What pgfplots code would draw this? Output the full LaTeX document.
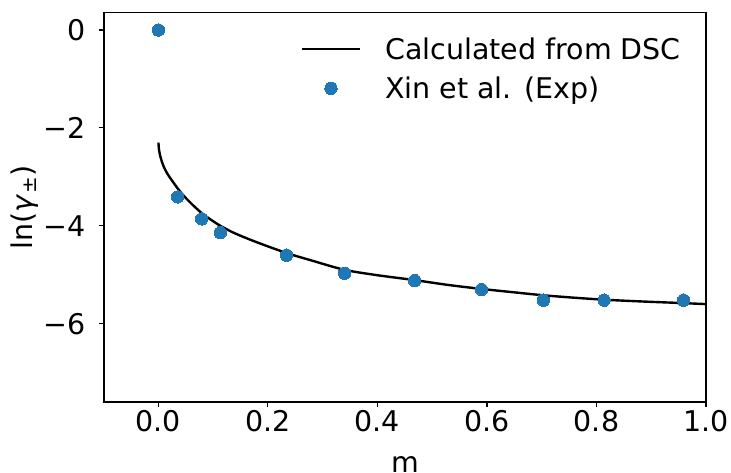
\documentclass[border=0pt]{standalone}
\usepackage{fontspec}
\setmainfont{DejaVu Sans}
\usepackage{pgfplots}
\pgfplotsset{compat=1.18}
\definecolor{c0}{HTML}{1F77B4}
\newcommand{\fs}{\fontsize{28.5}{34}\selectfont}
\pgfplotsset{
  lineleg/.style={legend image code/.code={\draw[##1] (0pt,0pt) -- (58pt,0pt);}},
  markleg/.style={legend image code/.code={\draw[##1, mark repeat=2, mark phase=2] plot coordinates {(0pt,0pt) (29pt,0pt) (58pt,0pt)};}},
}
\begin{document}
\begin{tikzpicture}
\begin{axis}[
  name=ax,
  scale only axis,
  width=602pt, height=389.3pt,
  xmin=-0.0994, xmax=1.0,
  ymin=-7.60, ymax=0.353,
  axis line style={line width=1.1pt},
  tick align=outside,
  tick style={line width=1.1pt, black},
  major tick length=5pt,
  xtick={0,0.2,0.4,0.6,0.8,1.0},
  xticklabels={0.0,0.2,0.4,0.6,0.8,1.0},
  ytick={0,-2,-4,-6},
  yticklabels={0,−2,−4,−6},
  xtick pos=bottom, ytick pos=left,
  tick label style={font=\fs},
  xticklabel style={anchor=north, inner sep=0pt, yshift=-3pt},
  yticklabel style={anchor=east, inner sep=0pt, xshift=-13pt},
  xlabel={m},
  ylabel={ln(\textit{γ}\textsubscript{±})},
  every axis x label/.style={at={(rel axis cs:0.5,0)}, anchor=base, yshift=-70pt, font=\fs},
  every axis y label/.style={at={(rel axis cs:0,0.5)}, xshift=-79pt, rotate=90, anchor=center, font=\fs},
  legend style={draw=none, fill=none, font=\fs, at={(rel axis cs:0.985,0.975)}, anchor=north east,
    xshift=-12pt, yshift=-11pt, row sep=12pt, column sep=22pt, inner sep=2pt},
  legend cell align=left,
]
\addplot[black, line width=2.4pt, smooth, lineleg] coordinates {
(0.0,-2.30) (0.001,-2.44) (0.003,-2.56) (0.006,-2.68) (0.01,-2.80) (0.015,-2.91)
(0.02,-3.00) (0.027,-3.11) (0.034,-3.22) (0.044,-3.36) (0.055,-3.49) (0.065,-3.60)
(0.079,-3.74) (0.095,-3.87) (0.113,-4.00) (0.135,-4.13) (0.16,-4.25) (0.19,-4.38)
(0.235,-4.56) (0.28,-4.71) (0.34,-4.90) (0.4,-5.01) (0.468,-5.11) (0.53,-5.21)
(0.59,-5.29) (0.65,-5.36) (0.703,-5.42) (0.76,-5.47) (0.814,-5.51) (0.88,-5.545)
(0.959,-5.58) (1.0,-5.60) (1.05,-5.62)
};
\addlegendentry{Calculated from DSC}
\addplot[only marks, mark=*, mark size=6.2pt, mark options={fill=c0, draw=c0, line width=0pt}, markleg] coordinates {
(0,0) (0.035,-3.41) (0.079,-3.86) (0.113,-4.14) (0.234,-4.60) (0.340,-4.97)
(0.468,-5.12) (0.590,-5.30) (0.703,-5.52) (0.814,-5.52) (0.959,-5.52)
};
\addlegendentry{Xin et al. (Exp)}
\end{axis}
\pgfresetboundingbox
\useasboundingbox ([xshift=-104pt,yshift=-70pt]ax.south west) rectangle ([xshift=25pt,yshift=12.7pt]ax.north east);
\end{tikzpicture}
\end{document}
